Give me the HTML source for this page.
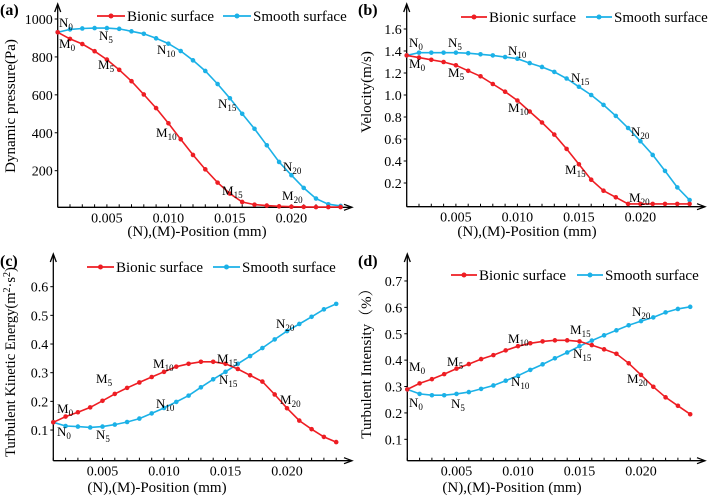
<!DOCTYPE html>
<html><head><meta charset="utf-8">
<style>
html,body{margin:0;padding:0;background:#fff;}
svg, svg text{font-family:"Liberation Serif","Noto Serif CJK SC",serif;}
</style></head>
<body>
<svg id="chart" width="708" height="499" viewBox="0 0 708 499" xmlns="http://www.w3.org/2000/svg" font-family="Liberation Serif, serif"></svg>
<script>
// Shared x positions (mm)
const xPositions = [0.001,0.002,0.003,0.004,0.005,0.006,0.007,0.008,0.009,0.010,0.011,0.012,0.013,0.014,0.015,0.016,0.017,0.018,0.019,0.020,0.021,0.022,0.023,0.024];
const xTickValues = [0.005,0.010,0.015,0.020];
const xTickLabels = ["0.005","0.010","0.015","0.020"];

// Panel (a) dynamic pressure
const aBionic = [930,895,868,830,786,732,672,602,530,450,366,283,207,137,79,35,21,16,12,10,9,8,8,8];
const aSmooth = [930,945,950,952,952,948,935,922,898,870,831,782,726,657,582,500,421,334,246,176,109,53,23,14];
const aYTicks = [200,400,600,800,1000];
const aYLabels = ["200","400","600","800","1000"];

// Panel (b) velocity
const bBionic = [1.36,1.34,1.32,1.30,1.27,1.22,1.17,1.10,1.03,0.95,0.85,0.75,0.64,0.51,0.37,0.23,0.13,0.07,0.01,0.01,0.01,0.01,0.01,0.01];
const bSmooth = [1.36,1.385,1.385,1.385,1.385,1.38,1.37,1.36,1.345,1.33,1.29,1.255,1.21,1.15,1.075,1.0,0.91,0.81,0.70,0.58,0.455,0.31,0.16,0.045];
const bYTicks = [0.2,0.4,0.6,0.8,1.0,1.2,1.4,1.6];
const bYLabels = ["0.2","0.4","0.6","0.8","1.0","1.2","1.4","1.6"];

// Panel (c) turbulent kinetic energy
const cBionic = [0.127,0.147,0.162,0.179,0.202,0.226,0.247,0.266,0.285,0.303,0.321,0.331,0.338,0.338,0.331,0.313,0.291,0.269,0.224,0.176,0.133,0.103,0.076,0.058];
const cSmooth = [0.127,0.114,0.112,0.109,0.112,0.119,0.128,0.14,0.158,0.177,0.198,0.22,0.249,0.277,0.303,0.331,0.358,0.386,0.416,0.445,0.47,0.495,0.521,0.54];
const cYTicks = [0.1,0.2,0.3,0.4,0.5,0.6];
const cYLabels = ["0.1","0.2","0.3","0.4","0.5","0.6"];

// Panel (d) turbulent intensity
const dBionic = [0.289,0.312,0.328,0.347,0.368,0.385,0.404,0.419,0.437,0.453,0.464,0.471,0.475,0.475,0.471,0.457,0.441,0.424,0.388,0.344,0.299,0.259,0.227,0.195];
const dSmooth = [0.289,0.272,0.267,0.267,0.272,0.279,0.291,0.304,0.322,0.341,0.363,0.384,0.407,0.429,0.453,0.474,0.494,0.513,0.532,0.548,0.562,0.581,0.594,0.602];
const dYTicks = [0.1,0.2,0.3,0.4,0.5,0.6,0.7];
const dYLabels = ["0.1","0.2","0.3","0.4","0.5","0.6","0.7"];

const RED = "#ee1d23", BLUE = "#1bb1e7";
const FONT = '"Liberation Serif", "Noto Serif CJK SC", serif';
const NS = "http://www.w3.org/2000/svg";
const svg = document.getElementById('chart');
function mk(tag, attrs, parent){
  const e = document.createElementNS(NS, tag);
  for (const k in attrs) e.setAttribute(k, attrs[k]);
  if (tag === 'text') e.style.fontFamily = FONT;
  (parent||svg).appendChild(e);
  return e;
}

function panel(cfg){
  const g = mk('g', {});
  
  
  const xs = v => cfg.ox + (v - 0.001) * 12300;
  const ys = v => cfg.y0 - v * cfg.yk;
  const ax = mk('g', {stroke:'#000','stroke-width':1.3, fill:'none'}, g);
  
  
  mk('line', {x1:cfg.ox, y1:cfg.axY, x2:cfg.ox, y2:cfg.top}, ax);
  mk('line', {x1:cfg.ox, y1:cfg.axY, x2:cfg.right, y2:cfg.axY}, ax);
  mk('path', {d:`M${cfg.ox-3},${cfg.top+8} L${cfg.ox},${cfg.top} L${cfg.ox+3},${cfg.top+8}`}, ax);
  mk('path', {d:`M${cfg.right-8},${cfg.axY-3} L${cfg.right},${cfg.axY} L${cfg.right-8},${cfg.axY+3}`}, ax);
  xPositions.forEach(v => mk('line', {x1:xs(v), y1:cfg.axY, x2:xs(v), y2:cfg.axY-3, 'stroke-width':1}, ax));
  xTickValues.forEach((v,i) => {
    const t = mk('text', {x:xs(v), y:cfg.axY+15, 'text-anchor':'middle', 'font-size':14}, g);
    t.textContent = xTickLabels[i];
    
    
  });
  cfg.yTicks.forEach((v,i) => {
    mk('line', {x1:cfg.ox, y1:ys(v), x2:cfg.ox-3, y2:ys(v), stroke:'#000', 'stroke-width':1}, g);
    const t = mk('text', {x:cfg.ox-5, y:ys(v)+5, 'text-anchor':'end', 'font-size':14}, g);
    t.textContent = cfg.yLabels[i];
    
    
  });
  const xt = mk('text', {x:cfg.xtX, y:cfg.xtY, 'text-anchor':'middle', 'font-size':15}, g);
  xt.textContent = '(N),(M)-Position (mm)';
  
  
  const yt = mk('text', {x:0, y:0, 'text-anchor':'middle', 'font-size':cfg.ytSize||15, transform:`translate(${cfg.ytX},${cfg.ytY}) rotate(-90)`}, g);
  yt.innerHTML = cfg.yTitle;
  
  
  const pl = mk('text', {x:cfg.plX, y:cfg.plY, 'font-size':16, 'font-weight':'bold'}, g);
  pl.textContent = cfg.letter;
  
  
  [[cfg.smooth, BLUE, 'smooth-series'], [cfg.bionic, RED, 'bionic-series']].forEach(([arr, col, nm]) => {
    const sg = mk('g', {}, g);
    
    
    const d = arr.map((v,i) => (i?'L':'M') + xs(xPositions[i]).toFixed(1) + ',' + ys(v).toFixed(1)).join(' ');
    mk('path', {d, fill:'none', stroke:col, 'stroke-width':1.6}, sg);
    arr.forEach((v,i) => {
      const c = mk('circle', {cx:xs(xPositions[i]), cy:ys(v), r:2.3, fill:col}, sg);
      
      
    });
  });
  const L = cfg.leg;
  [[L.rx, 'Bionic surface', RED, 'legend-bionic'], [L.bx, 'Smooth surface', BLUE, 'legend-smooth']].forEach(([x, label, col, nm]) => {
    const lg = mk('g', {}, g);
    
    
    mk('line', {x1:x, y1:L.y, x2:x+L.w, y2:L.y, stroke:col, 'stroke-width':1.8}, lg);
    mk('circle', {cx:x+L.w/2, cy:L.y, r:2.5, fill:col}, lg);
    const t = mk('text', {x:x+L.w+2, y:L.y+5, 'font-size':15}, lg);
    t.textContent = label;
  });
  cfg.ann.forEach(([lbl, sub, x, y]) => {
    const t = mk('text', {x, y, 'font-size':13}, g);
    t.innerHTML = `${lbl}<tspan dy="3" font-size="9">${sub}</tspan>`;
    
    
  });
}

panel({name:'panel-a-dynamic-pressure', letter:'(a)', plX:0, plY:15,
  ox:57.7, axY:207.3, top:4, right:352, y0:208.6, yk:0.1896,
  yTicks:aYTicks, yLabels:aYLabels, bionic:aBionic, smooth:aSmooth,
  xtX:197, xtY:236, ytX:15, ytY:106, yTitle:'Dynamic pressure(Pa)',
  leg:{rx:97, bx:223, y:16, w:28},
  ann:[['N','0',59,27],['M','0',59,48],['N','5',99,40],['M','5',98,69],['N','10',157,54],['M','10',156,137],['N','15',218,108],['M','15',222,195],['N','20',283,171],['M','20',282,200]]});

panel({name:'panel-b-velocity', letter:'(b)', plX:358, plY:15,
  ox:406.7, axY:206.7, top:4, right:705, y0:205, yk:110,
  yTicks:bYTicks, yLabels:bYLabels, bionic:bBionic, smooth:bSmooth,
  xtX:527, xtY:236, ytX:371, ytY:92, yTitle:'Velocity(m/s)',
  leg:{rx:461, bx:586, y:17, w:26},
  ann:[['N','0',409,47],['M','0',409,68],['N','5',448,47],['M','5',448,77],['N','10',508,55],['M','10',508,112],['N','15',571,82],['M','15',565,174],['N','20',631,136],['M','20',629,202]]});

panel({name:'panel-c-turbulent-kinetic-energy', letter:'(c)', plX:0, plY:266,
  ox:53.3, axY:460.7, top:254, right:352, y0:458.7, yk:286.7,
  yTicks:cYTicks, yLabels:cYLabels, bionic:cBionic, smooth:cSmooth,
  xtX:157, xtY:492, ytX:15, ytY:362, ytSize:14.5, yTitle:'Turbulent Kinetic Energy(m<tspan dy="-5" font-size="10">2</tspan><tspan dy="5">·s</tspan><tspan dy="-5" font-size="10">2</tspan><tspan dy="5">)</tspan>',
  leg:{rx:87, bx:213, y:267, w:27},
  ann:[['M','0',57,413],['N','0',57,436],['M','5',96,383],['N','5',96,439],['M','10',153,368],['N','10',156,408],['M','15',217,363],['N','15',219,384],['M','20',280,404],['N','20',276,328]]});

panel({name:'panel-d-turbulent-intensity', letter:'(d)', plX:358, plY:266,
  ox:407.3, axY:460.7, top:254, right:705, y0:465.7, yk:263.9,
  yTicks:dYTicks, yLabels:dYLabels, bionic:dBionic, smooth:dSmooth,
  xtX:512, xtY:492, ytX:371, ytY:360, yTitle:'Turbulent Intensity（%）',
  leg:{rx:451, bx:577, y:275, w:26},
  ann:[['M','0',409,371],['N','0',409,407],['M','5',447,366],['N','5',451,408],['M','10',508,343],['N','10',511,386],['M','15',570,334],['N','15',573,358],['M','20',627,383],['N','20',632,316]]});
</script>
</body></html>
